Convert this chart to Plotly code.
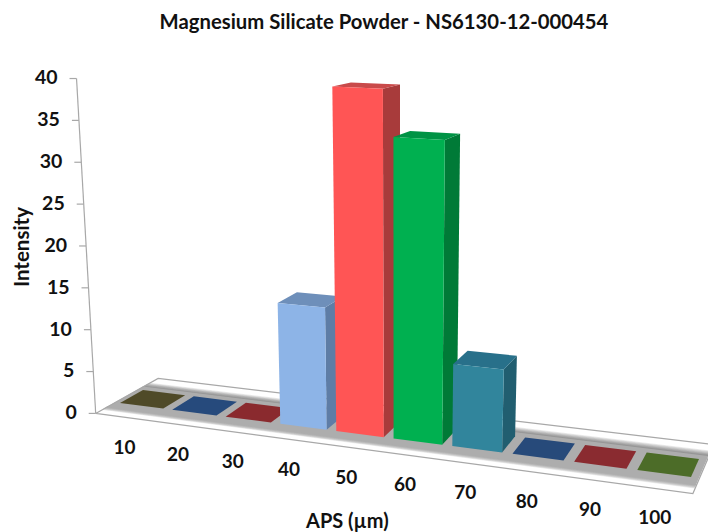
import numpy as np
import plotly.graph_objects as go

categories = ["10", "20", "30", "40", "50", "60", "70", "80", "90", "100"]
intensity = [0, 0, 0, 13.8, 38.8, 33.5, 9, 0, 0, 0]
y_ticks = [0, 5, 10, 15, 20, 25, 30, 35, 40]
front_colors = ["#4f4a28", "#264a7c", "#8a2a2e", "#8db4e7", "#ff5555", "#00b050", "#31859c", "#274a7a", "#8a2b30", "#4c6c28"]
side_colors = ["#4f4a28", "#264a7c", "#8a2a2e", "#5e7da6", "#a83b3b", "#007a37", "#215e70", "#274a7a", "#8a2b30", "#4c6c28"]
top_colors = ["#4f4a28", "#264a7c", "#8a2a2e", "#6e8fba", "#c94a4a", "#009345", "#28708a", "#274a7a", "#8a2b30", "#4c6c28"]
TITLE = "Magnesium Silicate Powder - NS6130-12-000454"
X_TITLE = "APS (µm)"
Y_TITLE = "Intensity"
FONT = "Lato"
W = 0.83

# oblique perspective camera of the 3-D plot: (category, depth) -> page position
P0, P1 = np.array([120.0, 403.0]), np.array([691.0, 477.0])
B0, B1 = np.array([143.0, 390.0]), np.array([699.0, 459.0])


def along(u):
    return u / (1 - 0.01132 * u)


def project(u, v, h=0.0):
    t = along(u) / along(9 + W)
    front = P0 + t * (P1 - P0)
    back = B0 + t * (B1 - B0)
    x, y = front + v * (back - front)
    s = (8.375 + 0.0021 * (x - 97)) * (1 - 0.035 * max(v, 0))
    d = h * s
    return x + (x - 397) * 1.9e-4 * d, y - d


def poly(fig, pts, color, opacity=1.0):
    xs = [p[0] for p in pts] + [pts[0][0]]
    ys = [p[1] for p in pts] + [pts[0][1]]
    fig.add_trace(go.Scatter(x=xs, y=ys, mode="lines", fill="toself", fillcolor=color, opacity=opacity,
                             line=dict(width=0, color=color), hoverinfo="skip", showlegend=False))


def line(fig, pts, color="#a8a8a8", width=1.2):
    fig.add_trace(go.Scatter(x=[p[0] for p in pts], y=[p[1] for p in pts], mode="lines",
                             line=dict(width=width, color=color), hoverinfo="skip", showlegend=False))


fig = go.Figure()
U0, U1, V0, V1 = -0.09, 9.96, -0.85, 1.85

# floor plate
floor = [project(U0, V0), project(U1, V0), project(U1, V1), project(U0, V1)]
poly(fig, floor, "#ffffff")

# floor shadow and grey band
BV0, BV1, BU0, BU1 = -0.38, 1.22, -0.1, 9.95
for k in range(7):
    t = k / 7
    poly(fig, [project(BU0, BV0 - 0.2 + 0.2 * t), project(BU1, BV0 - 0.2 + 0.2 * t),
               project(BU1, BV0 + 0.05), project(BU0, BV0 + 0.05)], "#8c8c8c", 0.16)
    poly(fig, [project(BU0, BV1 - 0.05), project(BU1, BV1 - 0.05),
               project(BU1, BV1 + 0.3 - 0.3 * t), project(BU0, BV1 + 0.3 - 0.3 * t)], "#3c3c3c", 0.1)
poly(fig, [project(BU0, BV0), project(BU1, BV0), project(BU1, BV1), project(BU0, BV1)], "#adadad")

line(fig, floor + [floor[0]])

# vertical axis
ax = (U0, V0)
line(fig, [project(*ax, 0), project(*ax, max(y_ticks))])
for t in y_ticks:
    x, y = project(*ax, t)
    line(fig, [(x - 7, y), (x, y)])
fig.add_trace(go.Scatter(
    x=[project(*ax, t)[0] - 19 for t in y_ticks], y=[project(*ax, t)[1] + 1 for t in y_ticks],
    mode="text", text=[str(t) for t in y_ticks], textposition="middle left",
    textfont=dict(family=FONT, size=19.5, color="#111111", weight="bold"), hoverinfo="skip", showlegend=False))

# bars
for i, val in enumerate(intensity):
    u0, u1 = i, i + W
    if val == 0:
        poly(fig, [project(u0, 0), project(u1, 0), project(u1, 1), project(u0, 1)], front_colors[i])
        continue
    poly(fig, [project(u1, 0), project(u1, 1), project(u1, 1, val), project(u1, 0, val)], side_colors[i])
    poly(fig, [project(u0, 0, val), project(u1, 0, val), project(u1, 1, val), project(u0, 1, val)], top_colors[i])
    poly(fig, [project(u0, 0), project(u1, 0), project(u1, 0, val), project(u0, 0, val)], front_colors[i])

# category labels
lx, ly = [], []
for i in range(len(categories)):
    x, y = project(i + W / 2, 0)
    lx.append(x - 17 + 0.85 * i)
    ly.append(y + 43.5 + 0.3 * i)
fig.add_trace(go.Scatter(x=lx, y=ly, mode="text", text=categories, textposition="middle center",
                         textfont=dict(family=FONT, size=19, color="#111111", weight="bold"),
                         hoverinfo="skip", showlegend=False))

fig.update_layout(
    width=708, height=532, margin=dict(l=0, r=0, t=0, b=0), autosize=False,
    paper_bgcolor="#ffffff", plot_bgcolor="#ffffff", showlegend=False,
    xaxis=dict(range=[0, 708], visible=False, fixedrange=True),
    yaxis=dict(range=[532, 0], visible=False, fixedrange=True),
    title=dict(text=TITLE, x=384 / 708, xanchor="center", y=1 - 22 / 532, yanchor="middle",
               font=dict(family=FONT, size=20.3, color="#111111", weight="bold")),
    annotations=[
        dict(text=X_TITLE, x=347, y=520, xref="x", yref="y", showarrow=False,
             font=dict(family=FONT, size=20, color="#111111", weight="bold")),
        dict(text=Y_TITLE, x=21, y=247, xref="x", yref="y", showarrow=False, textangle=-90,
             font=dict(family=FONT, size=20.5, color="#111111", weight="bold")),
    ],
)
fig.write_html("out.html", config={"displayModeBar": False},
               post_script="document.body.style.margin='0';document.documentElement.style.overflow='hidden';")
